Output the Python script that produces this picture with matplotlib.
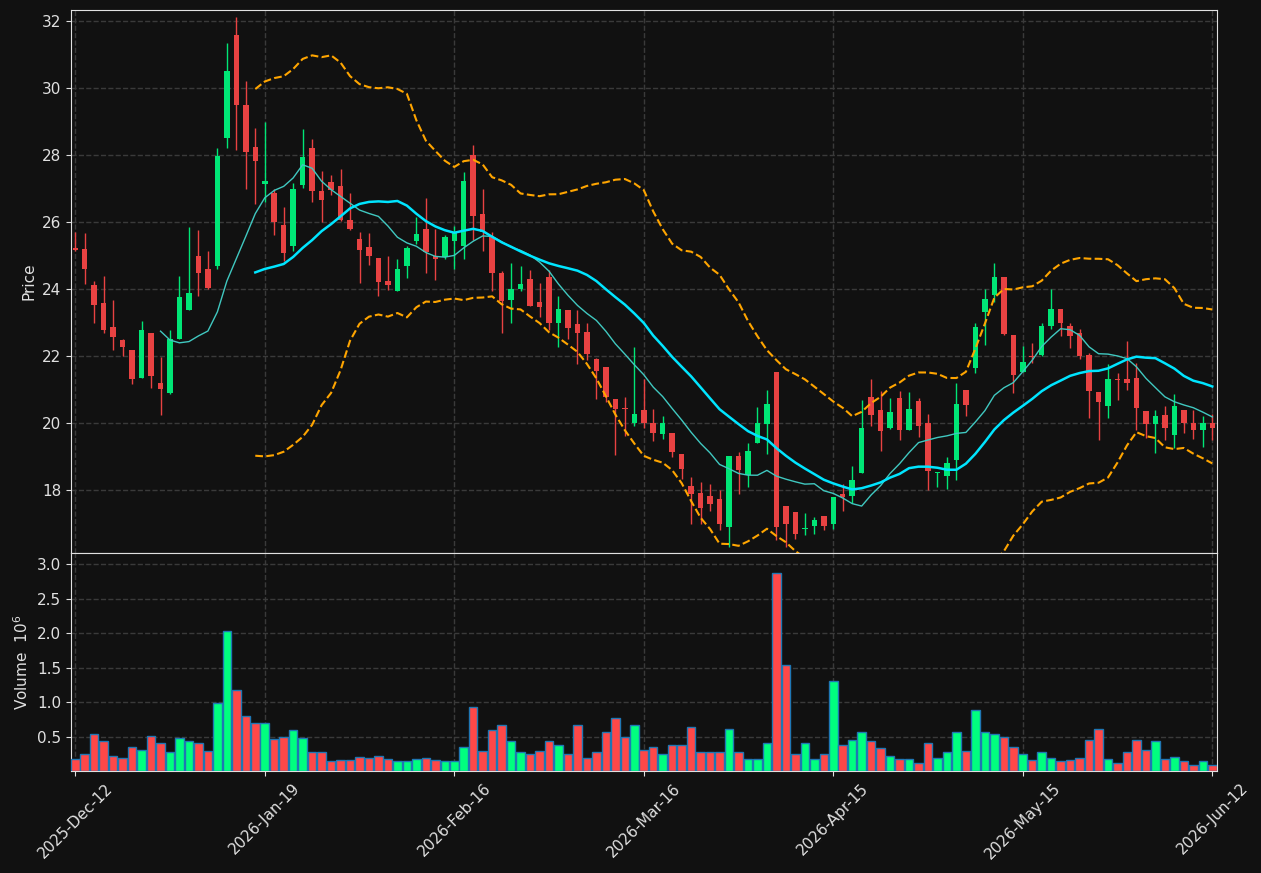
import numpy as np
import pandas as pd
import matplotlib
matplotlib.use("Agg")
import matplotlib.pyplot as plt

# daily OHLC (121 sessions)
opens = [25.22, 25.20, 24.13, 23.59, 22.88, 22.48, 22.18, 21.33, 22.70, 21.20,
         20.89, 22.51, 23.38, 25.00, 24.61, 24.70, 28.50, 31.59, 29.50, 28.25,
         27.15, 26.88, 25.92, 25.29, 27.12, 28.22, 26.94, 27.20, 27.08, 26.07,
         25.50, 25.26, 24.94, 24.25, 23.95, 24.68, 25.42, 25.80, 24.98, 24.95,
         25.42, 25.27, 28.01, 26.25, 25.55, 24.49, 23.67, 24.00, 24.29, 23.60,
         24.35, 22.99, 23.36, 22.95, 22.71, 21.90, 21.66, 20.73, 20.45, 19.99,
         20.38, 19.99, 19.67, 19.71, 19.06, 18.12, 17.90, 17.81, 17.72, 16.90,
         19.00, 18.46, 19.40, 19.97, 21.53, 17.51, 17.33, 16.85, 16.93, 17.21,
         16.98, 17.88, 17.81, 18.51, 20.79, 20.40, 19.85, 20.75, 19.80, 20.66,
         20.01, 18.50, 18.41, 18.89, 20.99, 21.63, 23.30, 23.81, 24.36, 22.63,
         21.53, 22.01, 22.04, 22.89, 23.40, 22.91, 22.69, 22.04, 20.93, 20.50,
         21.32, 21.32, 21.34, 20.36, 19.97, 20.24, 19.63, 20.40, 20.00, 19.78,
         20.00]
highs = [25.69, 25.67, 24.23, 24.39, 23.67, 22.51, 22.18, 23.04, 22.70, 21.96,
         22.78, 24.40, 25.84, 25.76, 25.14, 28.21, 31.36, 32.11, 30.20, 28.81,
         28.98, 26.99, 26.44, 27.18, 28.78, 28.48, 27.53, 27.40, 27.58, 26.88,
         25.71, 25.67, 24.94, 24.99, 24.90, 25.29, 26.16, 26.72, 25.79, 25.60,
         25.89, 27.48, 28.30, 26.98, 25.70, 24.55, 24.78, 24.69, 24.57, 24.19,
         24.57, 23.80, 23.36, 23.38, 23.00, 21.94, 21.66, 20.73, 20.78, 22.27,
         21.30, 20.42, 20.22, 19.71, 19.06, 18.40, 18.25, 18.19, 18.01, 19.00,
         19.14, 19.41, 20.48, 21.00, 21.53, 17.51, 17.33, 17.30, 17.20, 17.21,
         17.78, 18.18, 18.71, 20.68, 21.31, 20.97, 20.74, 20.95, 20.92, 20.74,
         20.26, 18.54, 18.98, 21.19, 20.99, 22.99, 24.00, 24.78, 24.36, 22.63,
         22.29, 22.39, 22.99, 24.00, 23.40, 22.99, 22.81, 22.09, 20.93, 21.77,
         21.49, 22.46, 21.79, 20.36, 20.38, 20.50, 20.87, 20.40, 20.38, 20.22,
         20.28]
lows = [25.14, 24.15, 22.98, 22.68, 22.18, 22.00, 21.16, 21.33, 21.06, 20.24,
        20.87, 22.51, 23.38, 23.79, 23.99, 24.60, 28.21, 28.15, 26.99, 26.54,
        26.59, 25.61, 24.85, 25.14, 27.03, 26.61, 25.99, 26.82, 26.04, 25.77,
        24.17, 24.72, 23.79, 23.97, 23.95, 24.33, 25.35, 24.48, 24.27, 24.90,
        24.60, 24.90, 25.45, 25.13, 23.94, 22.70, 23.00, 23.94, 23.49, 23.17,
        22.79, 22.28, 22.51, 21.77, 21.87, 20.73, 20.63, 19.03, 19.61, 19.91,
        19.84, 19.46, 19.53, 18.99, 18.32, 16.98, 16.98, 17.38, 16.81, 16.29,
        17.87, 18.10, 19.40, 19.07, 16.51, 16.29, 16.55, 16.66, 16.70, 16.81,
        16.85, 17.38, 17.61, 18.51, 19.90, 19.15, 19.82, 19.48, 19.78, 19.58,
        18.01, 18.08, 18.03, 18.31, 20.22, 21.49, 22.33, 23.61, 22.62, 20.90,
        21.53, 21.79, 22.01, 22.81, 22.61, 22.24, 21.91, 20.15, 19.50, 20.15,
        20.68, 21.00, 19.80, 19.55, 19.10, 19.50, 19.25, 19.70, 19.52, 19.28,
        19.50]
closes = [25.17, 24.59, 23.51, 22.78, 22.56, 22.26, 21.32, 22.79, 21.41, 21.03,
          22.51, 23.77, 23.88, 24.47, 24.02, 27.98, 30.52, 29.48, 28.08, 27.81,
          27.22, 25.99, 25.09, 26.99, 27.95, 26.92, 26.66, 26.97, 26.05, 25.78,
          25.18, 24.98, 24.20, 24.13, 24.60, 25.23, 25.65, 25.11, 24.89, 25.56,
          25.69, 27.23, 26.19, 25.70, 24.47, 23.64, 24.01, 24.16, 23.49, 23.46,
          22.98, 23.39, 22.84, 22.69, 22.06, 21.55, 20.78, 20.42, 20.42, 20.28,
          19.99, 19.69, 20.01, 19.13, 18.62, 17.89, 17.46, 17.58, 16.98, 19.00,
          18.59, 19.17, 19.99, 20.58, 16.90, 16.98, 16.68, 16.88, 17.10, 16.92,
          17.78, 17.80, 18.31, 19.85, 20.23, 19.75, 20.33, 19.78, 20.42, 19.90,
          18.56, 18.54, 18.81, 20.57, 20.53, 22.87, 23.70, 24.36, 22.67, 21.44,
          21.82, 21.97, 22.91, 23.40, 23.00, 22.59, 21.99, 20.95, 20.62, 21.32,
          21.27, 21.19, 20.45, 19.97, 20.22, 19.84, 20.52, 19.99, 19.80, 20.00,
          19.84]
volume_m = [0.18, 0.25, 0.54, 0.43, 0.22, 0.19, 0.35, 0.31, 0.51, 0.40,
            0.28, 0.48, 0.43, 0.40, 0.29, 0.98, 2.03, 1.18, 0.80, 0.69,
            0.70, 0.47, 0.49, 0.60, 0.48, 0.28, 0.27, 0.14, 0.16, 0.16,
            0.21, 0.19, 0.22, 0.18, 0.15, 0.14, 0.18, 0.19, 0.16, 0.15,
            0.15, 0.35, 0.93, 0.29, 0.60, 0.67, 0.44, 0.27, 0.25, 0.29,
            0.43, 0.37, 0.24, 0.66, 0.19, 0.28, 0.57, 0.77, 0.50, 0.66,
            0.31, 0.35, 0.25, 0.37, 0.38, 0.64, 0.28, 0.28, 0.27, 0.61,
            0.27, 0.18, 0.18, 0.40, 2.87, 1.53, 0.25, 0.41, 0.18, 0.24,
            1.31, 0.37, 0.45, 0.56, 0.43, 0.34, 0.22, 0.18, 0.18, 0.12,
            0.40, 0.19, 0.27, 0.56, 0.29, 0.89, 0.57, 0.54, 0.50, 0.35,
            0.25, 0.16, 0.27, 0.19, 0.14, 0.16, 0.19, 0.45, 0.61, 0.18,
            0.12, 0.28, 0.45, 0.31, 0.43, 0.18, 0.21, 0.15, 0.09, 0.14,
            0.09]
tick_labels = ["2025-Dec-12", "2026-Jan-19", "2026-Feb-16", "2026-Mar-16",
               "2026-Apr-15", "2026-May-15", "2026-Jun-12"]

df = pd.DataFrame({"open": opens, "high": highs, "low": lows,
                   "close": closes, "vol": volume_m})
x = np.arange(len(df))
up = df["close"] >= df["open"]

ma10 = df["close"].rolling(10).mean()
ma20 = df["close"].rolling(20).mean()
sd20 = df["close"].rolling(20).std(ddof=0)
bb_up = ma20 + 2 * sd20
bb_lo = ma20 - 2 * sd20

BG = "#111111"
FG = "#e0e0e0"
c_up, c_dn = "#00e676", "#e84242"
v_up, v_dn = "#00ff7f", "#ff4848"

fig = plt.figure(figsize=(12.61, 8.73), dpi=100, facecolor=BG)
ax = fig.add_axes([0.0563, 0.3666, 0.9088, 0.6219])
axv = fig.add_axes([0.0563, 0.1168, 0.9088, 0.2498], sharex=ax)

for a in (ax, axv):
    a.set_facecolor(BG)
    for s in a.spines.values():
        s.set_color(FG)
    a.tick_params(colors=FG, labelsize=11)
    a.grid(True, color="#3a3a3a", linestyle="--", linewidth=1)
    a.set_axisbelow(True)

# candles
colors = np.where(up, c_up, c_dn)
ax.vlines(x, df["low"], df["high"], colors=colors, linewidth=1, zorder=2)
body = (df["close"] - df["open"]).abs().clip(lower=0.03)
ax.bar(x, body, bottom=df[["open", "close"]].min(axis=1), width=0.58,
       color=colors, linewidth=0, zorder=3)

ax.plot(x, ma10, color="#40c8c0", linewidth=1, zorder=4)
ax.plot(x, ma20, color="#00e5ff", linewidth=1.8, zorder=4)
ax.plot(x, bb_up, color="#ffa500", linestyle="--", linewidth=1.5, zorder=4)
ax.plot(x, bb_lo, color="#ffa500", linestyle="--", linewidth=1.5, zorder=4)

ax.set_ylim(16.12, 32.33)
ax.set_yticks(np.arange(18, 33, 2))
ax.set_ylabel("Price", color=FG, fontsize=11)
ax.tick_params(axis="x", labelbottom=False)

# volume
axv.bar(x, df["vol"], width=0.9, color=np.where(up, v_up, v_dn),
        edgecolor="#1f77b4", linewidth=1, zorder=3)
axv.set_ylim(0, 3.16)
axv.set_yticks([0.5, 1.0, 1.5, 2.0, 2.5, 3.0])
axv.set_ylabel("Volume  $10^{6}$", color=FG, fontsize=11)

tick_pos = np.linspace(0, len(df) - 1, len(tick_labels))
axv.set_xticks(tick_pos)
axv.set_xticklabels(tick_labels, rotation=45, ha="center")
axv.set_xlim(-0.45, len(df) - 0.5)

fig.savefig("out.png", dpi=100, facecolor=BG)
